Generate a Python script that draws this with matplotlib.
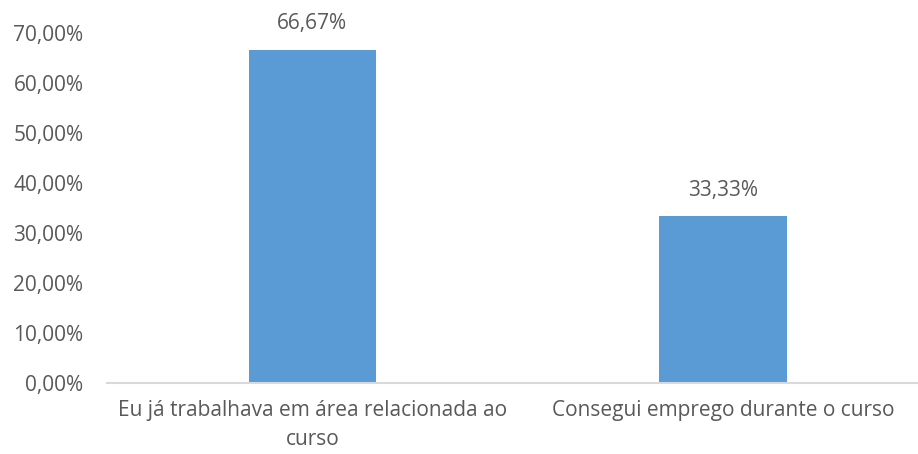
import numpy as np
import matplotlib.pyplot as plt
from matplotlib.ticker import FuncFormatter

# Data
categories = ['Eu já trabalhava em área relacionada ao\ncurso', 'Consegui emprego durante o curso']
values = [66.67, 33.33]
yticks = [0, 10, 20, 30, 40, 50, 60, 70]

plt.rcParams['font.family'] = ['Open Sans', 'DejaVu Sans']
text_color = '#595959'
bar_color = '#5B9BD5'
fs = 15

fig = plt.figure(figsize=(9.18, 4.54), dpi=100)
ax = fig.add_axes([107 / 918, 1 - 383 / 454, 1 - 107 / 918, 350 / 454])

x = np.arange(len(categories))
bars = ax.bar(x, values, width=0.311, color=bar_color)

# Value labels above bars
for xi, v in zip(x, values):
    ax.annotate(f'{v:.2f}%'.replace('.', ','), (xi, v), xytext=(0, 11),
                textcoords='offset points', ha='center', va='bottom',
                fontsize=fs, color=text_color)

ax.set_xlim(-0.5, 1 + (918 - 723) / 411)
ax.set_ylim(0, 70)
ax.set_yticks(yticks)
ax.yaxis.set_major_formatter(FuncFormatter(lambda v, p: f'{v:.2f}%'.replace('.', ',')))
ax.set_xticks(x)
ax.set_xticklabels(categories, linespacing=1.5)

ax.tick_params(axis='y', length=0, pad=17, labelsize=fs, labelcolor=text_color)
ax.tick_params(axis='x', length=0, pad=12, labelsize=fs, labelcolor=text_color)

for side in ['top', 'right', 'left']:
    ax.spines[side].set_visible(False)
ax.spines['bottom'].set_color('#D9D9D9')
ax.spines['bottom'].set_linewidth(1.5)

fig.savefig('out.png', dpi=100)
